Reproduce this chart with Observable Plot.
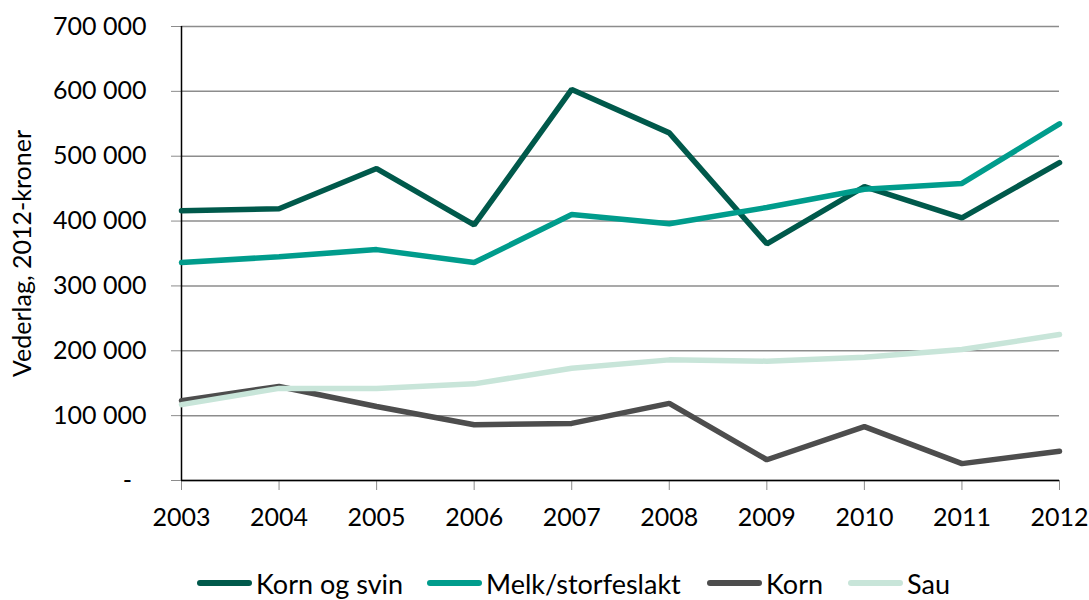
<!DOCTYPE html>
<html><head><meta charset="utf-8">
<script src="https://cdn.jsdelivr.net/npm/d3@7"></script>
<script src="https://cdn.jsdelivr.net/npm/@observablehq/plot@0.6"></script>
<style>
body{margin:0;background:#fff;font-family:Lato,sans-serif;}
#wrap{width:1089px;height:600px;overflow:hidden;position:relative;}
#legend{position:relative;width:1089px;height:55px;}
.item{position:absolute;top:23px;height:30px;display:flex;align-items:center;font-size:27px;color:#000;white-space:nowrap;}
.sw{width:55px;height:6px;border-radius:3px;margin-right:4px;}
</style>
</head><body>
<div id="wrap"><div id="chart"></div><div id="legend"></div></div>
<script>
const years = [2003, 2004, 2005, 2006, 2007, 2008, 2009, 2010, 2011, 2012];
const kornOgSvin = [416000, 419000, 481000, 394000, 603000, 536000, 365000, 453000, 405000, 490000];
const melkStorfeslakt = [336000, 345000, 356000, 336000, 410000, 396000, 421000, 449000, 458000, 550000];
const korn = [123000, 145000, 114000, 86000, 88000, 119000, 32000, 83000, 26000, 45000];
const sau = [117000, 142000, 142000, 149000, 173000, 186000, 184000, 190000, 202000, 225000];
const seriesNames = ["Korn og svin", "Melk/storfeslakt", "Korn", "Sau"];
const seriesColors = ["#00594b", "#009c8c", "#4d4d4d", "#c8e5d9"];
const yTicks = [0, 100000, 200000, 300000, 400000, 500000, 600000, 700000];
const yLabel = "Vederlag, 2012-kroner";

const seriesValues = [kornOgSvin, melkStorfeslakt, korn, sau];
const data = [];
seriesNames.forEach((name, i) => {
  years.forEach((yr, j) => data.push({series: name, year: yr, value: seriesValues[i][j]}));
});

const fmt = d => d === 0 ? "-\u2007" : d3.format(",")(d).replace(/,/g, " ");

const chart = Plot.plot({
  width: 1089, height: 545,
  marginLeft: 181, marginRight: 30, marginTop: 26, marginBottom: 65,
  style: {fontFamily: "Lato, sans-serif", fontSize: "25px", color: "#000", background: "#fff"},
  x: {type: "linear", domain: [2003, 2012]},
  y: {domain: [0, 700000]},
  color: {domain: seriesNames, range: seriesColors},
  marks: [
    Plot.gridY(yTicks, {stroke: "#8c8c8c", strokeOpacity: 1, strokeWidth: 1.5}),
    Plot.axisY(yTicks, {tickSize: 10, tickPadding: 25, tickFormat: fmt, stroke: "#8c8c8c", fill: "#000",
      label: yLabel, labelAnchor: "center", labelArrow: "none", labelOffset: 168}),
    Plot.axisX(years, {tickSize: 10, tickPadding: 18, tickFormat: d => String(d), stroke: "#8c8c8c", fill: "#000", label: null}),
    Plot.ruleX([2003], {stroke: "#000", strokeWidth: 1.5}),
    Plot.ruleY([0], {stroke: "#000", strokeWidth: 1.5}),
    Plot.line(data, {x: "year", y: "value", z: "series", stroke: "series", strokeWidth: 5.5, strokeLinejoin: "miter", strokeLinecap: "round"})
  ]
});
document.getElementById("chart").appendChild(chart);

const legendLefts = [197, 427, 707, 848];
const legend = document.getElementById("legend");
seriesNames.forEach((name, i) => {
  const it = document.createElement("div");
  it.className = "item";
  it.style.left = legendLefts[i] + "px";
  const sw = document.createElement("span");
  sw.className = "sw";
  sw.style.background = seriesColors[i];
  const tx = document.createElement("span");
  tx.textContent = name;
  it.appendChild(sw); it.appendChild(tx);
  legend.appendChild(it);
});
</script>
</body></html>
